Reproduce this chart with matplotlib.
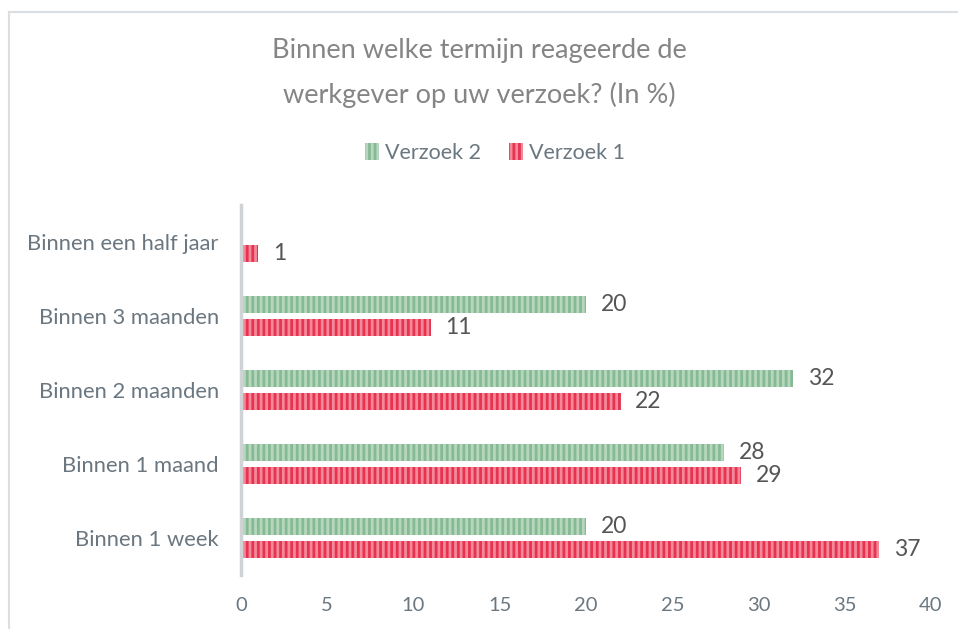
import matplotlib
matplotlib.use("Agg")
import matplotlib.pyplot as plt
from matplotlib.patches import Patch
from matplotlib.lines import Line2D
import numpy as np

categories = ["Binnen 1 week", "Binnen 1 maand", "Binnen 2 maanden", "Binnen 3 maanden", "Binnen een half jaar"]
verzoek1 = [37, 29, 22, 11, 1]
verzoek2 = [20, 28, 32, 20, None]
xticks = [0, 5, 10, 15, 20, 25, 30, 35, 40]
title = "Binnen welke termijn reageerde de\nwerkgever op uw verzoek? (In %)"

plt.rcParams['font.family'] = ['Lato', 'DejaVu Sans']
plt.rcParams['hatch.linewidth'] = 2.0

green_face = "#b6d7be"
green_hatch = "#86ba94"
red_face = "#f3889a"
red_hatch = "#e6334f"
text_gray = "#6b7780"

fig = plt.figure(figsize=(9.58, 6.29), dpi=100)
W, H = 958, 629
ax = fig.add_axes([241 / W, (629 - 575) / H, (931 - 241) / W, (575 - 205) / H])

y = np.arange(len(categories))
bh = 0.22
off = 0.155
for i, v in enumerate(verzoek2):
    if v is None:
        continue
    ax.barh(y[i] + off, v, height=bh, color=green_face, edgecolor=green_hatch,
            linewidth=0, hatch='|||')
    ax.text(v + 0.85, y[i] + off, f"{v}", va='center', ha='left', fontsize=16.5, color="#555555")
for i, v in enumerate(verzoek1):
    ax.barh(y[i] - off, v, height=bh, color=red_face, edgecolor=red_hatch,
            linewidth=0, hatch='|||')
    ax.text(v + 0.85, y[i] - off, f"{v}", va='center', ha='left', fontsize=16.5, color="#555555")

ax.set_xlim(0, 40)
ax.set_ylim(-0.5, len(categories) - 0.5)
ax.set_xticks(xticks)
ax.set_xticklabels([str(t) for t in xticks])
ax.set_yticks(y)
ax.set_yticklabels(categories)
ax.tick_params(axis='both', length=0, labelsize=14.5, colors=text_gray)
ax.tick_params(axis='y', pad=16, labelsize=15.8)
ax.tick_params(axis='x', pad=16)
for s in ['top', 'right', 'bottom']:
    ax.spines[s].set_visible(False)
ax.spines['left'].set_color("#cfd3d6")
ax.spines['left'].set_linewidth(2.5)

fig.text(479 / W, 1 - 73 / H, title, ha='center', va='center', fontsize=19.5,
         color="#858585", linespacing=1.85)

handles = [Patch(facecolor=green_face, edgecolor=green_hatch, linewidth=0, hatch='|||', label='Verzoek 2'),
           Patch(facecolor=red_face, edgecolor=red_hatch, linewidth=0, hatch='|||', label='Verzoek 1')]
fig.legend(handles=handles, loc='center', bbox_to_anchor=(495 / W, 1 - 153 / H), ncol=2,
           frameon=False, fontsize=15.5, labelcolor=text_gray, handlelength=0.65,
           handleheight=0.85, handletextpad=0.3, columnspacing=1.3)

# outer chart border
fig.add_artist(Line2D([9 / W, 1], [1 - 12 / H, 1 - 12 / H], transform=fig.transFigure, color="#dcdfe1", lw=1.5))
fig.add_artist(Line2D([9 / W, 9 / W], [0, 1 - 12 / H], transform=fig.transFigure, color="#dcdfe1", lw=1.5))

fig.savefig("out.png", dpi=100)
